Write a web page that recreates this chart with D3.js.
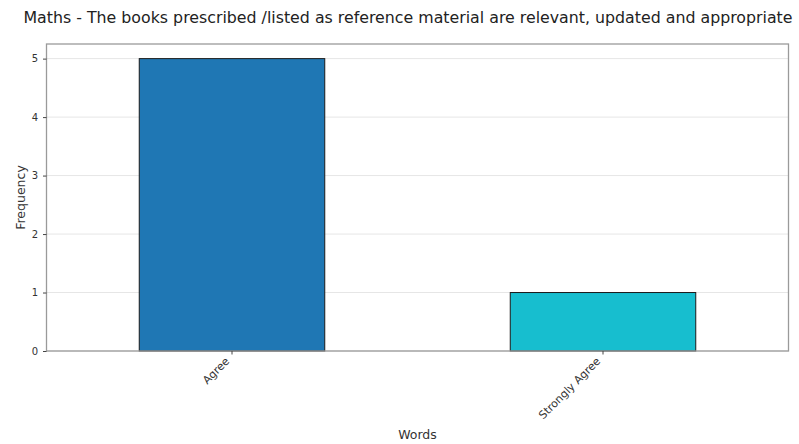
<!DOCTYPE html>
<html><head><meta charset="utf-8">
<script src="https://cdn.jsdelivr.net/npm/d3@7"></script>
<style>body{margin:0;background:#fff}svg{display:block}text{font-family:"DejaVu Sans",sans-serif}</style>
</head><body><svg id="c" width="799" height="444"></svg>
<script>
const categories = ["Agree", "Strongly Agree"];
const values = [5, 1];
const colors = ["#1f77b4", "#17becf"];
const yTicks = [0, 1, 2, 3, 4, 5];
const title = "Maths - The books prescribed /listed as reference material are relevant, updated and appropriate";

const svg = d3.select("#c");
const m = {left: 46.5, right: 10.5, top: 44, bottom: 93};
const W = 799, H = 444;
const iw = W - m.left - m.right, ih = H - m.top - m.bottom;
const x = d3.scaleBand().domain(categories).range([0, iw]).paddingInner(0.5).paddingOuter(0.25);
const y = d3.scaleLinear().domain([0, 5.25]).range([ih, 0]);
const g = svg.append("g").attr("transform", `translate(${m.left},${m.top})`);

g.selectAll(".grid").data(yTicks).enter().append("line")
  .attr("x1", 0).attr("x2", iw).attr("y1", d => y(d)).attr("y2", d => y(d))
  .attr("stroke", "#e6e6e6").attr("stroke-width", 1);

g.selectAll(".bar").data(categories).enter().append("rect")
  .attr("x", d => x(d)).attr("width", x.bandwidth())
  .attr("y", (d, i) => y(values[i])).attr("height", (d, i) => ih - y(values[i]))
  .attr("fill", (d, i) => colors[i]).attr("stroke", "#1a1a1a").attr("stroke-width", 1);

g.append("rect").attr("x", 0).attr("y", 0).attr("width", iw).attr("height", ih)
  .attr("fill", "none").attr("stroke", "#9a9a9a").attr("stroke-width", 1.3);

const ya = g.append("g").call(d3.axisLeft(y).tickValues(yTicks).tickFormat(d3.format("d")).tickSize(3.5).tickPadding(5));
ya.select(".domain").remove();
ya.selectAll("line").attr("stroke", "#444");
ya.selectAll("text").attr("font-size", 10).attr("fill", "#333");

const xa = g.append("g").attr("transform", `translate(0,${ih})`).call(d3.axisBottom(x).tickSize(3.5).tickPadding(4));
xa.select(".domain").remove();
xa.selectAll("line").attr("stroke", "#444");
xa.selectAll("text").attr("font-size", 11).attr("fill", "#333")
  .attr("x", 0).attr("y", 0).attr("dy", 0).attr("dx", 0)
  .attr("text-anchor", "end")
  .attr("transform", "translate(-2,11) rotate(-45)");

svg.append("text").attr("x", 408).attr("y", 23).attr("text-anchor", "middle")
  .attr("font-size", 15.8).attr("fill", "#222").text(title);
svg.append("text").attr("x", m.left + iw / 2).attr("y", 439).attr("text-anchor", "middle")
  .attr("font-size", 12.5).attr("fill", "#333").text("Words");
svg.append("text").attr("transform", `translate(25,${m.top + ih / 2}) rotate(-90)`).attr("text-anchor", "middle")
  .attr("font-size", 12.5).attr("fill", "#333").text("Frequency");
</script></body></html>
